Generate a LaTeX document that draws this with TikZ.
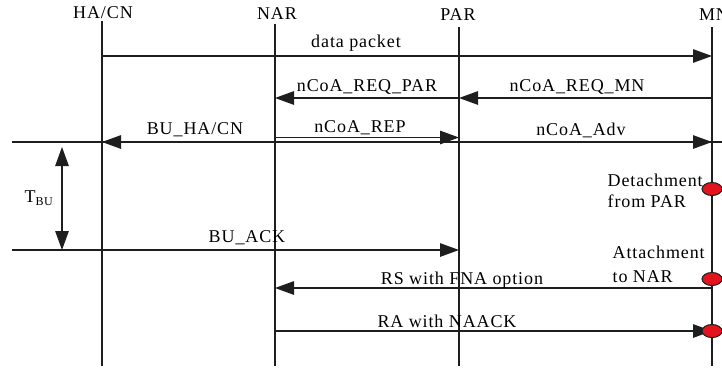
\documentclass[tikz,border=0pt]{standalone}
\usepackage{fontspec}
\setmainfont{Liberation Serif}[LetterSpace=5]
\usetikzlibrary{arrows.meta,shapes.geometric}
\definecolor{ink}{HTML}{1E1E1E}
\definecolor{evred}{HTML}{E3141B}
\begin{document}
\begin{tikzpicture}[x=1pt,y=-1pt,
  line width=1.3pt, draw=ink,
  msg/.style={-{Triangle[length=19pt,width=13.5pt]}},
  both/.style={{Triangle[length=19pt,width=13.5pt]}-{Triangle[length=19pt,width=13.5pt]}},
  lbl/.style={font=\fontsize{18}{20}\selectfont, anchor=base, inner sep=0pt, text=black},
  lbll/.style={lbl, anchor=base west},
  ev/.style={ellipse, draw=ink, line width=1pt, fill=evred, minimum width=20pt, minimum height=13pt, inner sep=0pt}]
\useasboundingbox (0,0) rectangle (722,368);

% titles
\node[lbl] (tha)  at (103,18) {HA/CN};
\node[lbl] (tnar) at (277,19) {NAR};
\node[lbl] (tpar) at (458,20) {PAR};
\node[lbl] (tmn)  at (714,20) {MN};

% lifelines
\coordinate (ha0) at (102,21);  \coordinate (ha9) at (102,366);
\coordinate (nar0) at (275,24); \coordinate (nar9) at (275,366);
\coordinate (par0) at (459,27); \coordinate (par9) at (459,366);
\coordinate (mn0) at (712,27);  \coordinate (mn9) at (712,366);
\draw (ha0) -- (ha9);
\draw (nar0) -- (nar9);
\draw (par0) -- (par9);
\draw (mn0) -- (mn9);

% data packet
\coordinate (ha1) at (102,56); \coordinate (mn1) at (712,56);
\draw[msg] (ha1) -- (mn1);
\node[lbl] (ldata) at (356,47) {data packet};

% nCoA_REQ
\coordinate (nar2) at (275,98); \coordinate (par2) at (459,98); \coordinate (mn2) at (712,98);
\draw[msg] (par2) -- (nar2);
\draw[msg] (mn2) -- (par2);
\node[lbl] (lreqpar) at (367,91) {nCoA\_REQ\_PAR};
\node[lbl] (lreqmn) at (577,91) {nCoA\_REQ\_MN};

% BU line
\coordinate (l3) at (12,142); \coordinate (r3) at (722,142);
\coordinate (ha3) at (102,142); \coordinate (nar3) at (275,142);
\coordinate (par3) at (459,142); \coordinate (mn3) at (712,142);
\draw (l3) -- (r3);
\draw[msg] (nar3) -- (ha3);
\draw[msg] (par3) -- (mn3);
\coordinate (nar4) at (275,137.5); \coordinate (par4) at (459,137.5);
\draw[msg] (nar4) -- (par4);
\node[lbl] (lbuha) at (195,134) {BU\_HA/CN};
\node[lbl] (lrep) at (360,132) {nCoA\_REP};
\node[lbl] (ladv) at (581,135) {nCoA\_Adv};

% T_BU
\coordinate (t1) at (62,147); \coordinate (t2) at (62,250);
\draw[both] (t1) -- (t2);
\node[lbl, anchor=base west] (ltbu) at (24,202) {T\raisebox{-0.45ex}{\fontsize{12}{14}\selectfont BU}};

% BU_ACK
\coordinate (l5) at (12,250); \coordinate (par5) at (459,250);
\draw[msg] (l5) -- (par5);
\node[lbl] (lack) at (247,242) {BU\_ACK};

% events
\node[ev] (e1) at (712,189) {};
\node[lbll] (ldet1) at (607,186) {Detachment};
\node[lbll] (ldet2) at (607,207) {from PAR};
\node[ev] (e2) at (712,279) {};
\node[lbll] (latt1) at (612,258) {Attachment};
\node[lbll] (latt2) at (612,282) {to NAR};

% RS / RA
\coordinate (nar6) at (275,288); \coordinate (mn6) at (712,288);
\draw[msg] (mn6) -- (nar6);
\node[lbl] (lrs) at (462,284) {RS with FNA option};
\coordinate (nar7) at (275,331); \coordinate (mn7) at (712,331);
\draw[msg] (nar7) -- (mn7);
\node[lbl] (lra) at (447,327) {RA with NAACK};
\node[ev] (e3) at (712,331) {};
\end{tikzpicture}
\end{document}
